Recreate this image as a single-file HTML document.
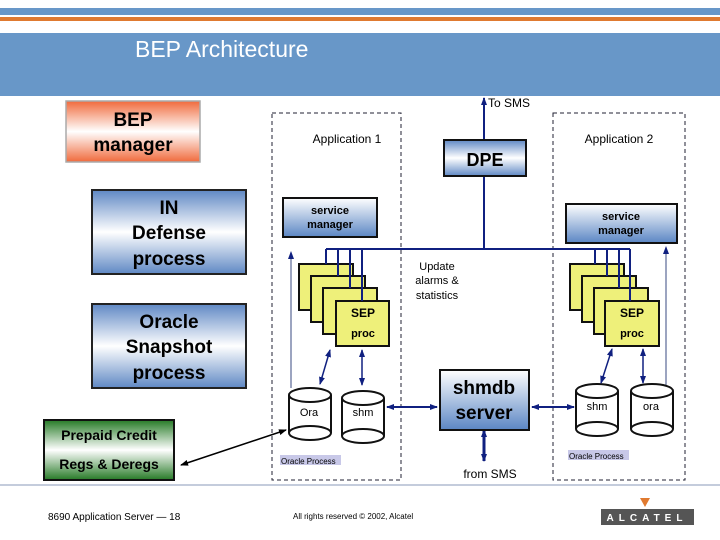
<!DOCTYPE html>
<html><head><meta charset="utf-8"><style>
html,body{margin:0;padding:0;background:#fff}
svg{display:block;font-family:"Liberation Sans",Arial,sans-serif}
</style></head><body>
<svg width="720" height="540" viewBox="0 0 720 540" xmlns="http://www.w3.org/2000/svg">
<defs>
<linearGradient id="gb" x1="0" y1="0" x2="0" y2="1"><stop offset="0" stop-color="#5f88c4"/><stop offset="0.5" stop-color="#ffffff"/><stop offset="1" stop-color="#5f88c4"/></linearGradient>
<linearGradient id="gb2" x1="0" y1="0" x2="0" y2="1"><stop offset="0" stop-color="#ffffff"/><stop offset="1" stop-color="#5b86c4"/></linearGradient>
<linearGradient id="go" x1="0" y1="0" x2="0" y2="1"><stop offset="0" stop-color="#f06a3c"/><stop offset="0.5" stop-color="#ffffff"/><stop offset="1" stop-color="#f06a3c"/></linearGradient>
<linearGradient id="gg" x1="0" y1="0" x2="0" y2="1"><stop offset="0" stop-color="#267a26"/><stop offset="0.5" stop-color="#ffffff"/><stop offset="1" stop-color="#267a26"/></linearGradient>
<marker id="a" markerWidth="8" markerHeight="8" refX="7" refY="4" orient="auto" markerUnits="userSpaceOnUse"><path d="M0,1 L8,4 L0,7z" fill="#102080"/></marker>
<marker id="as" markerWidth="8" markerHeight="8" refX="1" refY="4" orient="auto" markerUnits="userSpaceOnUse"><path d="M8,1 L0,4 L8,7z" fill="#102080"/></marker>
<marker id="k" markerWidth="8" markerHeight="8" refX="7" refY="4" orient="auto" markerUnits="userSpaceOnUse"><path d="M0,1 L8,4 L0,7z" fill="#000"/></marker>
<marker id="ks" markerWidth="8" markerHeight="8" refX="1" refY="4" orient="auto" markerUnits="userSpaceOnUse"><path d="M8,1 L0,4 L8,7z" fill="#000"/></marker>
</defs>
<rect x="0" y="8" width="720" height="7" fill="#6897c8"/>
<rect x="0" y="17" width="720" height="4" fill="#e07a30"/>
<rect x="0" y="33" width="720" height="63" fill="#6897c8"/>
<text x="135" y="57" font-size="23" fill="#fff">BEP Architecture</text>

<rect x="66" y="101" width="134" height="61" fill="url(#go)" stroke="#aaa" stroke-width="1.5"/>
<text x="133" y="126" font-size="19" font-weight="bold" text-anchor="middle">BEP</text>
<text x="133" y="151" font-size="19" font-weight="bold" text-anchor="middle">manager</text>
<rect x="92" y="190" width="154" height="84" fill="url(#gb)" stroke="#222" stroke-width="2"/>
<text x="169" y="214" font-size="19" font-weight="bold" text-anchor="middle">IN</text>
<text x="169" y="239" font-size="19" font-weight="bold" text-anchor="middle">Defense</text>
<text x="169" y="265" font-size="19" font-weight="bold" text-anchor="middle">process</text>
<rect x="92" y="304" width="154" height="84" fill="url(#gb)" stroke="#222" stroke-width="2"/>
<text x="169" y="328" font-size="19" font-weight="bold" text-anchor="middle">Oracle</text>
<text x="169" y="353" font-size="19" font-weight="bold" text-anchor="middle">Snapshot</text>
<text x="169" y="379" font-size="19" font-weight="bold" text-anchor="middle">process</text>
<rect x="44" y="420" width="130" height="60" fill="url(#gg)" stroke="#111" stroke-width="2"/>
<text x="109" y="440" font-size="14" font-weight="bold" text-anchor="middle">Prepaid Credit</text>
<text x="109" y="469" font-size="14" font-weight="bold" text-anchor="middle">Regs &amp; Deregs</text>

<rect x="272" y="113" width="129" height="367" fill="none" stroke="#223" stroke-dasharray="4,3"/>
<rect x="553" y="113" width="132" height="367" fill="none" stroke="#223" stroke-dasharray="4,3"/>
<text x="347" y="143" font-size="12" text-anchor="middle">Application  1</text>
<text x="619" y="143" font-size="12" text-anchor="middle">Application 2</text>

<line x1="484" y1="249" x2="484" y2="98" stroke="#102080" stroke-width="2" marker-end="url(#a)"/>
<text x="488" y="107" font-size="12">To SMS</text>
<rect x="444" y="140" width="82" height="36" fill="url(#gb)" stroke="#111" stroke-width="2"/>
<text x="485" y="166" font-size="18" font-weight="bold" text-anchor="middle">DPE</text>
<line x1="326" y1="249" x2="630" y2="249" stroke="#102080" stroke-width="2"/>

<rect x="283" y="198" width="94" height="39" fill="url(#gb2)" stroke="#111" stroke-width="2"/>
<text x="330" y="214" font-size="11" font-weight="bold" text-anchor="middle">service</text>
<text x="330" y="228" font-size="11" font-weight="bold" text-anchor="middle">manager</text>
<rect x="566" y="204" width="111" height="39" fill="url(#gb2)" stroke="#111" stroke-width="2"/>
<text x="621" y="220" font-size="11" font-weight="bold" text-anchor="middle">service</text>
<text x="621" y="234" font-size="11" font-weight="bold" text-anchor="middle">manager</text>

<text x="437" y="270" font-size="11" text-anchor="middle">Update</text>
<text x="437" y="284" font-size="11" text-anchor="middle">alarms &amp;</text>
<text x="437" y="299" font-size="11" text-anchor="middle">statistics</text>

<g fill="#eef07a" stroke="#111" stroke-width="2">
<rect x="299" y="264" width="54" height="46"/><rect x="311" y="276" width="54" height="46"/><rect x="323" y="288" width="54" height="46"/><rect x="336" y="301" width="53" height="45"/>
<rect x="570" y="264" width="54" height="46"/><rect x="582" y="276" width="54" height="46"/><rect x="594" y="288" width="54" height="46"/><rect x="605" y="301" width="54" height="45"/>
</g>
<g stroke="#102080" stroke-width="2">
<line x1="326" y1="249" x2="326" y2="264"/><line x1="338" y1="249" x2="338" y2="276"/><line x1="350" y1="249" x2="350" y2="288"/><line x1="362" y1="249" x2="362" y2="301"/>
<line x1="595" y1="249" x2="595" y2="264"/><line x1="607" y1="249" x2="607" y2="276"/><line x1="619" y1="249" x2="619" y2="288"/><line x1="630" y1="249" x2="630" y2="301"/>
</g>
<text x="363" y="317" font-size="12" font-weight="bold" text-anchor="middle">SEP</text>
<text x="363" y="337" font-size="11" font-weight="bold" text-anchor="middle">proc</text>
<text x="632" y="317" font-size="12" font-weight="bold" text-anchor="middle">SEP</text>
<text x="632" y="337" font-size="11" font-weight="bold" text-anchor="middle">proc</text>

<line x1="291" y1="388" x2="291" y2="252" stroke="#3a4a80" stroke-width="1" marker-end="url(#a)"/>
<line x1="666" y1="385" x2="666" y2="247" stroke="#3a4a80" stroke-width="1" marker-end="url(#a)"/>

<g fill="#fff" stroke="#111" stroke-width="2">
<path d="M289,395 v38 a21,7 0 0 0 42,0 v-38"/><ellipse cx="310" cy="395" rx="21" ry="7"/><path d="M289,433 a21,7 0 0 1 42,0" fill="none"/>
<path d="M342,398 v38 a21,7 0 0 0 42,0 v-38"/><ellipse cx="363" cy="398" rx="21" ry="7"/><path d="M342,436 a21,7 0 0 1 42,0" fill="none"/>
<path d="M576,391 v38 a21,7 0 0 0 42,0 v-38"/><ellipse cx="597" cy="391" rx="21" ry="7"/><path d="M576,429 a21,7 0 0 1 42,0" fill="none"/>
<path d="M631,391 v38 a21,7 0 0 0 42,0 v-38"/><ellipse cx="652" cy="391" rx="21" ry="7"/><path d="M631,429 a21,7 0 0 1 42,0" fill="none"/>
</g>
<text x="309" y="416" font-size="11" text-anchor="middle">Ora</text>
<text x="363" y="416" font-size="11" text-anchor="middle">shm</text>
<text x="597" y="410" font-size="11" text-anchor="middle">shm</text>
<text x="651" y="410" font-size="11" text-anchor="middle">ora</text>

<g stroke="#102080" stroke-width="1.5">
<line x1="330" y1="350" x2="320" y2="384" marker-start="url(#as)" marker-end="url(#a)"/>
<line x1="362" y1="350" x2="362" y2="385" marker-start="url(#as)" marker-end="url(#a)"/>
<line x1="612" y1="349" x2="601" y2="383" marker-start="url(#as)" marker-end="url(#a)"/>
<line x1="643" y1="349" x2="643" y2="383" marker-start="url(#as)" marker-end="url(#a)"/>
<line x1="387" y1="407" x2="437" y2="407" stroke-width="2" marker-start="url(#as)" marker-end="url(#a)"/>
<line x1="532" y1="407" x2="574" y2="407" stroke-width="2" marker-start="url(#as)" marker-end="url(#a)"/>
<line x1="484" y1="430" x2="484" y2="461" stroke-width="3" marker-start="url(#as)" marker-end="url(#a)"/>
</g>

<rect x="440" y="370" width="89" height="60" fill="url(#gb2)" stroke="#111" stroke-width="2"/>
<text x="484" y="394" font-size="19" font-weight="bold" text-anchor="middle">shmdb</text>
<text x="484" y="419" font-size="19" font-weight="bold" text-anchor="middle">server</text>
<text x="490" y="478" font-size="12" text-anchor="middle">from SMS</text>

<rect x="280" y="455" width="61" height="10" fill="#c8c8e8"/>
<text x="281" y="464" font-size="8">Oracle Process</text>
<rect x="568" y="450" width="61" height="10" fill="#c8c8e8"/>
<text x="569" y="459" font-size="8">Oracle Process</text>

<line x1="181" y1="465" x2="286" y2="430" stroke="#000" stroke-width="1.5" marker-start="url(#ks)" marker-end="url(#k)"/>

<line x1="0" y1="485" x2="720" y2="485" stroke="#8a9ab8" stroke-width="1"/>
<text x="48" y="520" font-size="10">8690 Application Server — 18</text>
<text x="293" y="519" font-size="8">All rights reserved © 2002, Alcatel</text>
<path d="M640,498 L650,498 L645,507z" fill="#e07a30"/>
<rect x="601" y="509" width="93" height="16" fill="#555"/>
<text x="647" y="521" font-size="10" font-weight="bold" fill="#fff" text-anchor="middle" letter-spacing="5">ALCATEL</text>
</svg>
</body></html>
